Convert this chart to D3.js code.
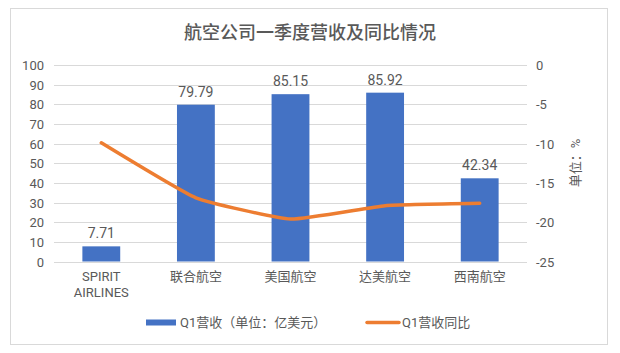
<!DOCTYPE html>
<html>
<head>
<meta charset="utf-8">
<script src="https://cdn.jsdelivr.net/npm/d3@7.9.0/dist/d3.min.js"></script>
<style>
  body { margin: 0; background: #fff; }
  svg text { font-family: Roboto, "Noto Sans CJK SC", sans-serif; fill: #595959; }
</style>
</head>
<body>
<svg id="chart" width="620" height="353"></svg>
<script>
// data
const airlines = ['SPIRIT AIRLINES', '联合航空', '美国航空', '达美航空', '西南航空'];
const revenue = [7.71, 79.79, 85.15, 85.92, 42.34];
const yoy = [-9.9, -16.9, -19.6, -17.9, -17.6];
const leftTicks = [0, 10, 20, 30, 40, 50, 60, 70, 80, 90, 100];
const rightTicks = [0, -5, -10, -15, -20, -25];

const svg = d3.select('#chart');

// chart frame
svg.append('rect')
  .attr('x', 10.5).attr('y', 8.5)
  .attr('width', 597).attr('height', 336)
  .attr('fill', '#fff').attr('stroke', '#d9d9d9');

svg.append('text')
  .attr('x', 310).attr('y', 39)
  .attr('text-anchor', 'middle')
  .attr('font-size', 18)
  .attr('font-weight', 500)
  .text('航空公司一季度营收及同比情况');

const plotL = 54, plotR = 527, plotT = 65, plotB = 261.5;

const x = d3.scaleBand().domain(airlines).range([plotL, plotR]).paddingInner(0.6).paddingOuter(0.3);
const y = d3.scaleLinear().domain([0, 100]).range([plotB, plotT]);
const y2 = d3.scaleLinear().domain([-25, 0]).range([plotB, plotT]);

// gridlines
svg.append('g')
  .selectAll('line')
  .data(leftTicks)
  .join('line')
  .attr('x1', plotL).attr('x2', plotR)
  .attr('y1', d => Math.round(y(d)) + 0.5).attr('y2', d => Math.round(y(d)) + 0.5)
  .attr('stroke', '#d9d9d9');

// left axis labels
svg.append('g')
  .selectAll('text')
  .data(leftTicks)
  .join('text')
  .attr('x', 44).attr('y', d => y(d) + 5)
  .attr('text-anchor', 'end')
  .attr('font-size', 13)
  .text(d => d);

// right axis labels
svg.append('g')
  .selectAll('text')
  .data(rightTicks)
  .join('text')
  .attr('x', 536).attr('y', d => y2(d) + 5)
  .attr('text-anchor', 'start')
  .attr('font-size', 13)
  .text(d => d);

svg.append('text')
  .attr('transform', 'translate(580,163) rotate(-90)')
  .attr('text-anchor', 'middle')
  .attr('font-size', 13)
  .text('单位：%');

// bars
svg.append('g')
  .selectAll('rect')
  .data(revenue)
  .join('rect')
  .attr('x', (d, i) => x(airlines[i]))
  .attr('y', d => y(d))
  .attr('width', x.bandwidth())
  .attr('height', d => y(0) - y(d))
  .attr('fill', '#4472c4');

// bar value labels
svg.append('g')
  .selectAll('text')
  .data(revenue)
  .join('text')
  .attr('x', (d, i) => x(airlines[i]) + x.bandwidth() / 2)
  .attr('y', d => y(d) - 8)
  .attr('text-anchor', 'middle')
  .attr('font-size', 14)
  .text(d => d.toFixed(2));

// yoy line, lightly smoothed like the excel original
const line = d3.line()
  .x((d, i) => x(airlines[i]) + x.bandwidth() / 2)
  .y(d => y2(d))
  .curve(d3.curveCardinal.tension(0.6));

svg.append('path')
  .attr('d', line(yoy))
  .attr('fill', 'none')
  .attr('stroke', '#ed7d31')
  .attr('stroke-width', 3.5)
  .attr('stroke-linecap', 'round')
  .attr('stroke-linejoin', 'round');

// category labels
const cat = svg.append('g');
airlines.forEach(name => {
  const cx = x(name) + x.bandwidth() / 2;
  const parts = name.startsWith('SPIRIT') ? ['SPIRIT', 'AIRLINES'] : [name];
  parts.forEach((p, j) => {
    cat.append('text')
      .attr('x', cx).attr('y', 281 + j * 16)
      .attr('text-anchor', 'middle')
      .attr('font-size', 13)
      .text(p);
  });
});

// legend
const lg = svg.append('g');
lg.append('rect').attr('x', 146).attr('y', 319.5).attr('width', 30).attr('height', 6).attr('fill', '#4472c4');
lg.append('text').attr('x', 180).attr('y', 327).attr('font-size', 13).text('Q1营收（单位：亿美元）');
lg.append('line').attr('x1', 367).attr('x2', 399).attr('y1', 322.5).attr('y2', 322.5)
  .attr('stroke', '#ed7d31').attr('stroke-width', 3.5).attr('stroke-linecap', 'round');
lg.append('text').attr('x', 402).attr('y', 327).attr('font-size', 13).text('Q1营收同比');
</script>
</body>
</html>
